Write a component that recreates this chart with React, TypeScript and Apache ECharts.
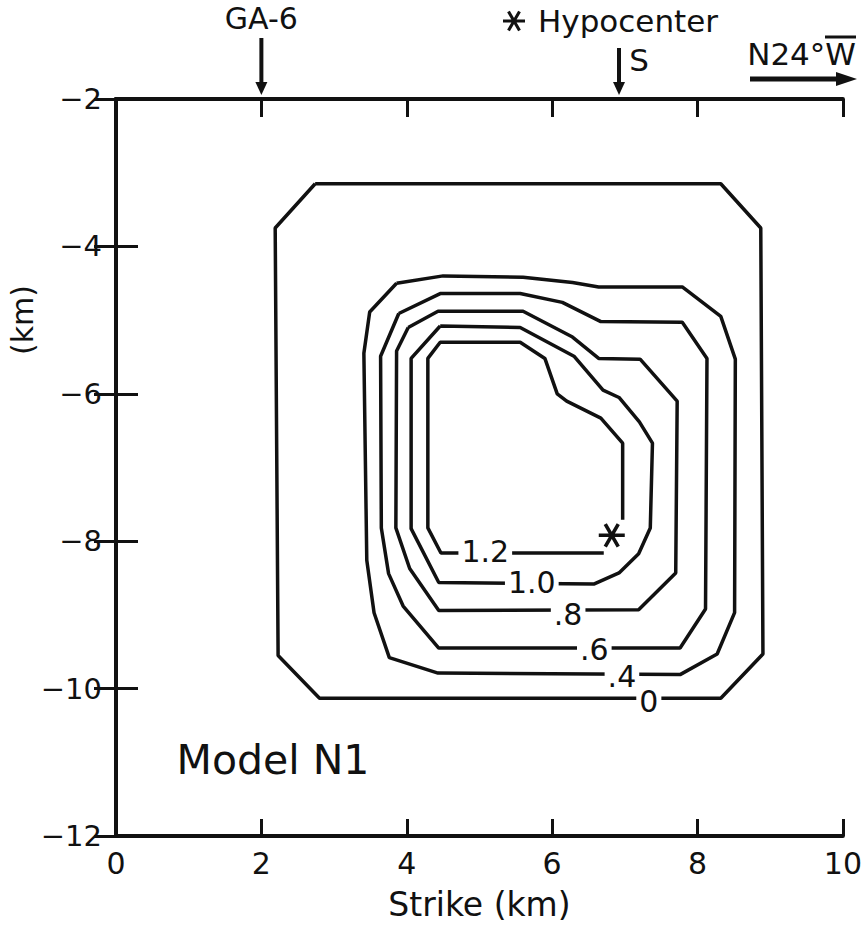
import React, { useEffect, useRef } from "react";
import * as echarts from "echarts";

// ---- Axis ticks ----
const X_TICKS = [0, 2, 4, 6, 8, 10];
const Y_TICKS = [-12, -10, -8, -6, -4, -2];

// ---- Contours (Strike km, depth km) ----
const contour0: [number, number][] = [
  [2.74, -3.15], [8.32, -3.15], [8.87, -3.75], [8.9, -9.53], [8.32, -10.13],
  [2.8, -10.13], [2.23, -9.55], [2.19, -3.75], [2.74, -3.15],
];
const contour04: [number, number][] = [
  [3.86, -4.5], [4.5, -4.4], [5.6, -4.42], [6.28, -4.49], [6.64, -4.55], [7.79, -4.55],
  [8.32, -4.95], [8.52, -5.53], [8.51, -8.97], [8.27, -9.53], [7.76, -9.81], [4.43, -9.79],
  [3.76, -9.58], [3.55, -8.97], [3.45, -8.26], [3.41, -5.45], [3.49, -4.89], [3.86, -4.5],
];
const contour06: [number, number][] = [
  [3.89, -4.91], [4.46, -4.64], [5.56, -4.64], [6.14, -4.76], [6.67, -5.02], [7.79, -5.03],
  [8.13, -5.52], [8.11, -8.92], [7.76, -9.45], [4.44, -9.45], [3.95, -8.88], [3.75, -8.44],
  [3.65, -7.82], [3.64, -5.49], [3.89, -4.91],
];
const contour08: [number, number][] = [
  [4.02, -5.1], [4.43, -4.88], [5.6, -4.88], [6.28, -5.23], [6.64, -5.52], [7.21, -5.53],
  [7.72, -6.1], [7.7, -8.43], [7.19, -8.93], [4.44, -8.94], [4.04, -8.37], [3.85, -7.82],
  [3.86, -5.42], [4.02, -5.1],
];
const contour10: [number, number][] = [
  [4.46, -5.08], [5.56, -5.1], [6.3, -5.49], [6.7, -5.95], [6.92, -6.05], [7.2, -6.38],
  [7.38, -6.67], [7.35, -7.82], [7.19, -8.17], [6.92, -8.43], [6.58, -8.58], [4.44, -8.56],
  [4.06, -7.83], [4.06, -5.52], [4.46, -5.08],
];
const contour12: [number, number][] = [
  [6.71, -8.16], [4.47, -8.16], [4.29, -7.82], [4.29, -5.52], [4.46, -5.3], [5.56, -5.3],
  [5.9, -5.52], [6.07, -6.0], [6.2, -6.1], [6.67, -6.33], [6.97, -6.67], [6.97, -7.71],
];

// ---- Contour labels ----
const LABEL_TEXT = ["1.2", "1.0", ".8", ".6", ".4", "0"];
const LABEL_X = [5.08, 5.72, 6.22, 6.58, 6.96, 7.33];
const LABEL_Y = [-8.14, -8.56, -8.99, -9.47, -9.83, -10.18];

// ---- Hypocenter & top annotations ----
const HYPOCENTER: [number, number] = [6.82, -7.92];
const GA6_X = 2;
const S_X = 6.92;

const FONT = '"DejaVu Sans", "Liberation Sans", sans-serif';
const INK = "#111";

// asterisk (6 arms) path in a -1..1 box
const ASTERISK_D =
  "M-1,-0.14 L1,-0.14 L1,0.14 L-1,0.14 Z " +
  "M-0.379,-0.936 L0.621,0.796 L0.379,0.936 L-0.621,-0.796 Z " +
  "M0.621,-0.796 L-0.379,0.936 L-0.621,0.796 L0.379,-0.936 Z";

let registered = false;

export default function App() {
  const ref = useRef<HTMLDivElement>(null);

  useEffect(() => {
    if (!ref.current) return;
    if (!registered) {
      echarts.graphic.registerShape("asterisk", echarts.graphic.extendPath(ASTERISK_D, {}));
      registered = true;
    }
    const chart = echarts.init(ref.current, undefined, { renderer: "svg" });

    const axisLine = { show: true, lineStyle: { color: INK, width: 4 } };
    const tickStyle = { color: INK, width: 3 };
    const contourLine = (data: [number, number][]) => ({
      type: "line",
      data,
      showSymbol: false,
      symbol: "none",
      lineStyle: { color: INK, width: 3.5 },
      z: 2,
      silent: true,
    });

    chart.setOption({
      animation: false,
      backgroundColor: "#fff",
      grid: { left: 116, top: 99, width: 736, height: 737, containLabel: false },
      xAxis: [
        {
          type: "value", min: X_TICKS[0], max: X_TICKS[X_TICKS.length - 1], interval: 2,
          position: "bottom", axisLine,
          axisTick: { show: true, inside: true, length: 17, lineStyle: tickStyle },
          axisLabel: { fontSize: 30, fontFamily: FONT, color: INK, margin: 12 },
          splitLine: { show: false },
          name: "Strike (km)", nameLocation: "middle", nameGap: 52,
          nameTextStyle: { fontSize: 33, fontFamily: FONT, color: INK },
        },
        {
          type: "value", min: X_TICKS[0], max: X_TICKS[X_TICKS.length - 1], interval: 2,
          position: "top", axisLine,
          axisTick: { show: true, inside: true, length: 18, lineStyle: tickStyle },
          axisLabel: { show: false }, splitLine: { show: false },
        },
      ],
      yAxis: [
        {
          type: "value", min: Y_TICKS[0], max: Y_TICKS[Y_TICKS.length - 1], interval: 2,
          position: "left", axisLine,
          axisTick: { show: true, inside: true, length: 22, lineStyle: tickStyle },
          axisLabel: {
            fontSize: 29, fontFamily: FONT, color: INK, margin: 14,
            formatter: (v: number) => String(v).replace("-", "−"),
          },
          splitLine: { show: false },
        },
        {
          type: "value", min: Y_TICKS[0], max: Y_TICKS[Y_TICKS.length - 1], interval: 2,
          position: "right", axisLine,
          axisTick: { show: true, inside: true, length: 22, lineStyle: tickStyle },
          axisLabel: { show: false }, splitLine: { show: false },
        },
      ],
      series: [
        contourLine(contour0),
        contourLine(contour04),
        contourLine(contour06),
        contourLine(contour08),
        contourLine(contour10),
        contourLine(contour12),
        {
          type: "scatter",
          data: LABEL_TEXT.map((t, i) => [LABEL_X[i], LABEL_Y[i], t]),
          symbolSize: 0,
          z: 5,
          silent: true,
          itemStyle: { opacity: 1 },
          label: {
            show: true,
            position: "inside",
            formatter: (p: any) => p.data[2],
            fontSize: 30,
            fontFamily: FONT,
            color: INK,
            opacity: 1,
            backgroundColor: "#ffffff",
            padding: [0, 3],
          },
        },
        {
          type: "scatter",
          data: [HYPOCENTER],
          symbol: "path://" + ASTERISK_D,
          symbolKeepAspect: true,
          symbolSize: 26,
          itemStyle: { color: INK, opacity: 1 },
          z: 6,
          silent: true,
        },
      ],
    });

    const gx = chart.convertToPixel({ xAxisIndex: 0 }, GA6_X) as number;
    const sx = chart.convertToPixel({ xAxisIndex: 0 }, S_X) as number;
    const txt = (text: string, x: number, y: number, size: number, align = "center", rot = 0) => ({
      type: "text",
      x, y, rotation: rot,
      style: {
        text, fill: INK, font: `${size}px ${FONT}`,
        fontSize: size, fontFamily: FONT,
        align, textAlign: align, verticalAlign: "middle", textVerticalAlign: "middle",
      },
    });
    const arrowDown = (x: number, y1: number, y2: number) => [
      { type: "line", shape: { x1: x, y1, x2: x, y2: y2 - 8 }, style: { stroke: INK, lineWidth: 4 } },
      { type: "polygon", shape: { points: [[x - 6, y2 - 13], [x, y2], [x + 6, y2 - 13]] }, style: { fill: INK } },
    ];

    chart.setOption({
      graphic: [
        txt("GA-6", gx, 18, 30),
        ...arrowDown(gx, 38, 95),
        { type: "asterisk", x: 514, y: 21, scaleX: 11, scaleY: 11, style: { fill: INK } },
        txt("Hypocenter", 538, 21, 31, "left"),
        txt("S", sx + 20, 60, 31),
        ...arrowDown(sx, 48, 95),
        txt("N24°W", 856, 54, 31, "right"),
        { type: "line", shape: { x1: 825, y1: 37, x2: 856, y2: 37 }, style: { stroke: INK, lineWidth: 3 } },
        { type: "line", shape: { x1: 750, y1: 79, x2: 842, y2: 79 }, style: { stroke: INK, lineWidth: 5 } },
        { type: "polygon", shape: { points: [[836, 72], [857, 79], [836, 86]] }, style: { fill: INK } },
        txt("(km)", 22, 320, 30, "center", Math.PI / 2),
        txt("Model N1", 273, 760, 41),
      ],
    });

    return () => chart.dispose();
  }, []);

  return (
    <div
      ref={ref}
      style={{ position: "fixed", left: 0, top: 0, width: 865, height: 927, background: "#fff" }}
    />
  );
}
